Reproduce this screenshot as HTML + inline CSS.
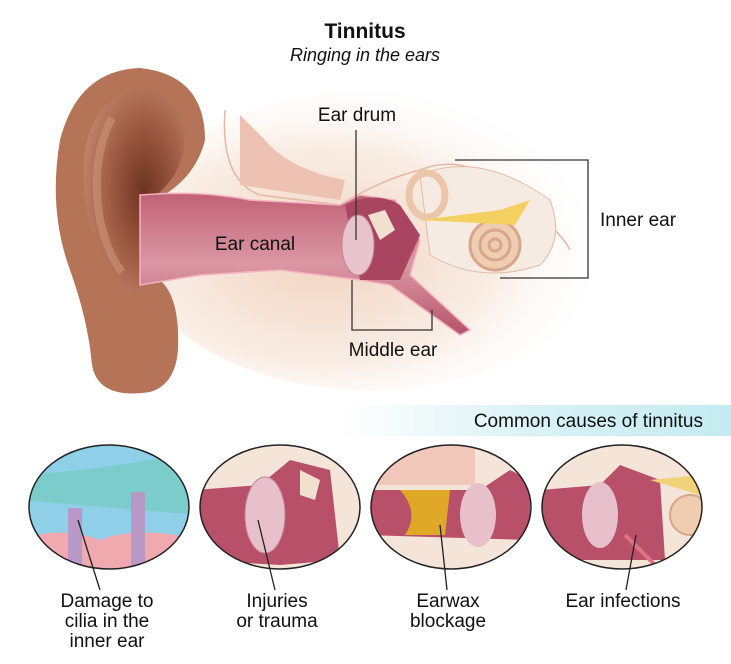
<!DOCTYPE html>
<html><head><meta charset="utf-8"><style>
html,body{margin:0;padding:0;background:#fff}
svg{display:block}
text{font-family:"Liberation Sans",sans-serif;fill:#111}
</style></head><body>
<svg width="731" height="664" viewBox="0 0 731 664" xmlns="http://www.w3.org/2000/svg">
<defs>
<radialGradient id="skin" cx="0.4" cy="0.55" r="0.6">
<stop offset="0" stop-color="#f1d3c0"/><stop offset="0.6" stop-color="#f9ede4"/><stop offset="1" stop-color="#fff" stop-opacity="0"/></radialGradient>
<radialGradient id="earg" cx="0.6" cy="0.5" r="0.65">
<stop offset="0" stop-color="#6e3320"/><stop offset="0.5" stop-color="#9c5a40"/><stop offset="1" stop-color="#c3876b"/></radialGradient>
<linearGradient id="band" x1="0" x2="1"><stop offset="0" stop-color="#fff"/><stop offset="0.5" stop-color="#d9f2f6"/><stop offset="1" stop-color="#c4ebf1"/></linearGradient>
<linearGradient id="canal" x1="0" y1="0" x2="0" y2="1"><stop offset="0" stop-color="#c16277"/><stop offset="0.5" stop-color="#dc97a4"/><stop offset="1" stop-color="#b4536a"/></linearGradient>
</defs>
<text x="365" y="38" text-anchor="middle" font-size="21" font-weight="bold">Tinnitus</text>
<text x="365" y="61" text-anchor="middle" font-size="18" font-style="italic">Ringing in the ears</text>
<ellipse cx="370" cy="240" rx="240" ry="150" fill="url(#skin)"/>
<path d="M225 110 Q220 180 260 195 L340 205 Q380 180 420 170 Q470 150 520 200 Q560 230 570 250" fill="none" stroke="#e6b8a5" stroke-width="1.5"/>
<path d="M240 115 L240 185 L340 200 L345 180 Q290 170 265 140 Z" fill="#eec2b2"/>
<path d="M420 175 Q480 150 550 200 Q565 240 540 265 Q480 285 430 255 Z" fill="#f6ebe2" stroke="#e1bca6"/>
<circle cx="495" cy="245" r="25" fill="#f0cdb0" stroke="#d8a68a" stroke-width="3"/>
<circle cx="495" cy="245" r="15" fill="none" stroke="#d8a68a" stroke-width="3"/>
<circle cx="495" cy="245" r="6" fill="none" stroke="#d8a68a" stroke-width="3"/>
<ellipse cx="427" cy="195" rx="18" ry="22" fill="none" stroke="#ecc6aa" stroke-width="7"/>
<path d="M420 220 L500 210 L530 200 L515 225 Z" fill="#f4d060"/>
<!-- ear -->
<path d="M140 68 Q78 70 60 140 Q48 210 70 270 Q88 320 92 365 Q98 400 150 392 Q175 385 178 350 Q180 300 162 282 L155 200 Q195 180 205 140 Q205 75 140 68 Z" fill="#b57358"/>
<path d="M140 90 Q95 95 85 150 Q78 210 105 260 Q130 300 140 290 L150 200 Q185 175 185 135 Q180 92 140 90 Z" fill="url(#earg)"/>
<path d="M112 118 Q90 160 100 220 Q108 255 122 272" fill="none" stroke="#c98f74" stroke-width="8" opacity="0.7"/>
<!-- canal -->
<path d="M140 195 Q200 190 250 200 L340 205 L360 195 L395 200 L420 240 L410 275 L470 330 L460 335 L390 285 L360 280 L280 270 L200 275 L140 285 Z" fill="url(#canal)" stroke="#f4b2c0" stroke-width="1.5"/>
<path d="M345 205 Q375 190 400 205 L420 235 L400 280 L360 280 Z" fill="#a94560"/>
<ellipse cx="358" cy="245" rx="16" ry="30" fill="#e9c3cc" stroke="#c48595"/>
<path d="M368 215 L385 210 L395 230 L380 240 Z" fill="#f2e0cf"/>
<text x="255" y="250" text-anchor="middle" font-size="19">Ear canal</text>
<text x="357" y="121" text-anchor="middle" font-size="19">Ear drum</text>
<g stroke="#333" stroke-width="1.3" fill="none">
<path d="M356 130 L356 240"/>
<path d="M455 160 L588 160 L588 278 L500 278"/>
<path d="M352 280 L352 330 L432 330 L432 310"/>
</g>
<text x="600" y="226" font-size="19">Inner ear</text>
<text x="393" y="356" text-anchor="middle" font-size="19">Middle ear</text>
<rect x="340" y="405" width="391" height="31" fill="url(#band)"/>
<text x="703" y="427" text-anchor="end" font-size="19">Common causes of tinnitus</text>
<clipPath id="c1"><ellipse cx="109" cy="507" rx="80" ry="62"/></clipPath>
<g clip-path="url(#c1)">
<rect x="20" y="440" width="180" height="140" fill="#8fd0e8"/>
<path d="M20 475 Q110 470 200 450 L200 515 L20 500 Z" fill="#7ccccc"/>
<path d="M20 540 Q60 525 100 540 Q140 525 200 540 L200 580 L20 580 Z" fill="#f0a9ae"/>
<rect x="68" y="508" width="14" height="70" fill="#b898c6"/>
<rect x="131" y="492" width="14" height="80" fill="#b898c6"/>
</g>
<ellipse cx="109" cy="507" rx="80" ry="62" fill="none" stroke="#222" stroke-width="1.5"/>
<clipPath id="c2"><ellipse cx="280" cy="507" rx="80" ry="62"/></clipPath>
<g clip-path="url(#c2)">
<rect x="195" y="440" width="170" height="140" fill="#f5e4d8"/>
<path d="M195 490 L260 485 L290 460 L330 470 L340 560 L280 565 L195 560 Z" fill="#b8506a"/>
<ellipse cx="265" cy="515" rx="20" ry="38" fill="#e7c0cb" stroke="#c48595"/>
<path d="M300 470 L320 480 L315 500 L300 495 Z" fill="#f2e0cf"/>
</g>
<ellipse cx="280" cy="507" rx="80" ry="62" fill="none" stroke="#222" stroke-width="1.5"/>
<clipPath id="c3"><ellipse cx="451" cy="507" rx="80" ry="62"/></clipPath>
<g clip-path="url(#c3)">
<rect x="365" y="440" width="170" height="140" fill="#f5e4d8"/>
<rect x="365" y="445" width="110" height="40" fill="#f0c7b8"/>
<path d="M365 490 L480 490 L510 470 L530 480 L530 540 L365 535 Z" fill="#b8506a"/>
<path d="M400 490 L450 490 L445 535 L405 535 Q420 512 400 490 Z" fill="#e0a827"/>
<ellipse cx="478" cy="515" rx="18" ry="32" fill="#e7c0cb"/>
</g>
<ellipse cx="451" cy="507" rx="80" ry="62" fill="none" stroke="#222" stroke-width="1.5"/>
<clipPath id="c4"><ellipse cx="622" cy="507" rx="80" ry="62"/></clipPath>
<g clip-path="url(#c4)">
<rect x="540" y="440" width="170" height="140" fill="#f5e4d8"/>
<path d="M540 490 L600 485 L620 465 L660 480 L665 560 L600 560 L540 560 Z" fill="#b8506a"/>
<ellipse cx="600" cy="515" rx="18" ry="33" fill="#e7c0cb"/>
<circle cx="690" cy="515" r="20" fill="#f0cdb0" stroke="#d8a68a" stroke-width="2"/>
<path d="M650 480 L700 475 L700 495 Z" fill="#f1d27a"/>
<path d="M625 535 L660 570" stroke="#e07080" stroke-width="4"/>
</g>
<ellipse cx="622" cy="507" rx="80" ry="62" fill="none" stroke="#222" stroke-width="1.5"/>
<g stroke="#222" stroke-width="1.3">
<path d="M78 520 L100 590"/><path d="M258 520 L275 590"/><path d="M440 525 L447 590"/><path d="M636 535 L626 590"/>
</g>
<g font-size="19" text-anchor="middle">
<text x="107" y="607">Damage to</text><text x="107" y="627">cilia in the</text><text x="107" y="647">inner ear</text>
<text x="277" y="607">Injuries</text><text x="277" y="627">or trauma</text>
<text x="448" y="607">Earwax</text><text x="448" y="627">blockage</text>
<text x="623" y="607">Ear infections</text>
</g>
</svg>
</body></html>
